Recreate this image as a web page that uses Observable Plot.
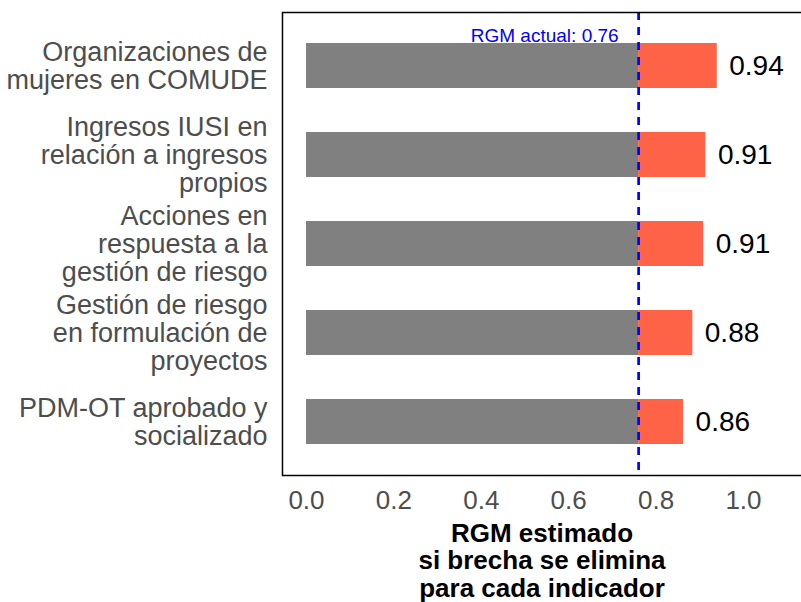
<!DOCTYPE html>
<html>
<head>
<meta charset="utf-8">
<script src="https://cdn.jsdelivr.net/npm/d3@7"></script>
<script src="https://cdn.jsdelivr.net/npm/@observablehq/plot@0.6"></script>
<style>
  html, body { margin: 0; padding: 0; background: #fff; }
  body { width: 801px; height: 602px; overflow: hidden; position: relative; font-family: "Liberation Sans", Arial, sans-serif; }
  #chart { position: absolute; left: 0; top: 0; width: 830px; }
  #chart svg { max-width: none !important; }
  #xtitle { position: absolute; left: 283px; width: 518px; top: 520px; text-align: center;
            font: bold 26px/27.3px "Liberation Sans", Arial, sans-serif; color: #000; white-space: pre; }
</style>
</head>
<body>
<div id="chart"></div>
<div id="xtitle">RGM estimado
si brecha se elimina
para cada indicador</div>
<script>
// Data
const categories = [
  "Organizaciones de\nmujeres en COMUDE",
  "Ingresos IUSI en\nrelación a ingresos\npropios",
  "Acciones en\nrespuesta a la\ngestión de riesgo",
  "Gestión de riesgo\nen formulación de\nproyectos",
  "PDM-OT aprobado y\nsocializado"
];
const estimated = [0.94, 0.914, 0.909, 0.884, 0.863];
const actual = 0.76;
const actualLabel = "RGM actual: 0.76";
const xTicks = [0, 0.2, 0.4, 0.6, 0.8, 1.0];

const rows = categories.map((c, i) => ({cat: c, value: estimated[i], actual}));

const chart = Plot.plot({
  width: 830,
  height: 515,
  marginLeft: 282,
  marginRight: 25,
  marginTop: 12,
  marginBottom: 40,
  style: {fontFamily: '"Liberation Sans", Arial, sans-serif', background: "transparent", overflow: "visible", maxWidth: "none"},
  x: {domain: [-0.0549, 1.1419]},
  y: {domain: categories, paddingInner: 0.49, paddingOuter: 0.335},
  marks: [
    Plot.barX(rows, {y: "cat", x1: 0, x2: "actual", fill: "#808080"}),
    Plot.barX(rows, {y: "cat", x1: "actual", x2: "value", fill: "#FF6347"}),
    Plot.ruleX([actual], {stroke: "#0000FF", strokeWidth: 2.7, strokeDasharray: "8,7"}),
    Plot.text([actual], {x: d => d, frameAnchor: "top", dy: 16, dx: -20, textAnchor: "end",
      text: () => actualLabel, fill: "#0000FF", fontSize: 19}),
    Plot.text(rows, {y: "cat", x: "value", dx: 12, textAnchor: "start",
      text: d => d.value.toFixed(2), fill: "#000", fontSize: 28}),
    Plot.axisX({ticks: xTicks, tickFormat: d3.format(".1f"), tickSize: 0, tickPadding: 15,
      fontSize: 26, fill: "#4d4d4d", label: null}),
    Plot.axisY({tickSize: 0, tickPadding: 15, fontSize: 27, fill: "#4d4d4d", lineHeight: 1.04, label: null}),
    Plot.frame({stroke: "#000", strokeWidth: 1.5})
  ]
});
document.getElementById("chart").appendChild(chart);
</script>
</body>
</html>
